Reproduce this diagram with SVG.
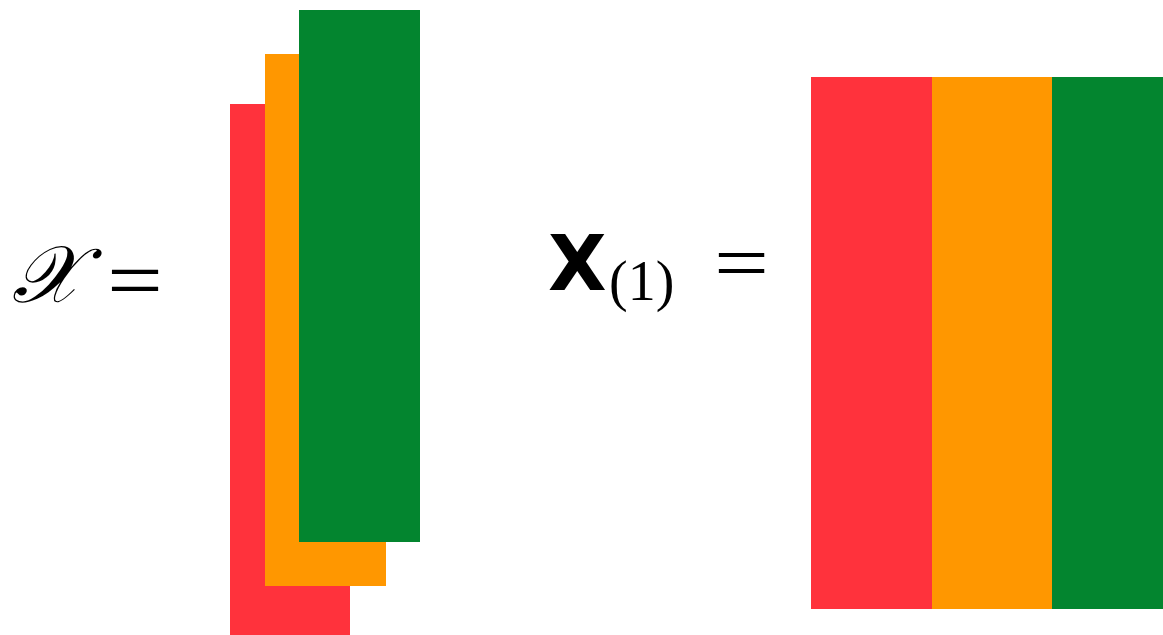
<svg xmlns="http://www.w3.org/2000/svg" width="1163" height="635" viewBox="0 0 1163 635">
<style>
.r{fill:#FF323C}.o{fill:#FF9700}.g{fill:#03852F}
.m{font-family:"Liberation Serif","DejaVu Serif",serif;fill:#000}
.b{font-family:"DejaVu Sans","Liberation Sans",sans-serif;font-weight:bold;fill:#000}
</style>
<rect width="1163" height="635" fill="#fff"/>
<g id="lhs-label">
<text class="m" x="12" y="302" font-size="80" font-style="italic">𝒳</text>
<text class="m" x="107" y="309" font-size="84" textLength="56" lengthAdjust="spacingAndGlyphs">=</text>
</g>
<g id="tensor">
<rect class="r" x="230" y="104" width="120" height="531"/>
<rect class="o" x="265" y="54" width="121" height="532"/>
<rect class="g" x="299" y="10" width="121" height="532"/>
</g>
<g id="rhs-label">
<text class="b" x="548" y="290" font-size="76">X</text>
<text class="m" x="609" y="300" font-size="56">(1)</text>
<text class="m" x="714" y="290" font-size="80" textLength="55" lengthAdjust="spacingAndGlyphs">=</text>
</g>
<g id="matrix">
<rect class="r" x="811" y="77" width="121" height="532"/>
<rect class="o" x="932" y="77" width="120" height="532"/>
<rect class="g" x="1052" y="77" width="111" height="532"/>
</g>
</svg>
